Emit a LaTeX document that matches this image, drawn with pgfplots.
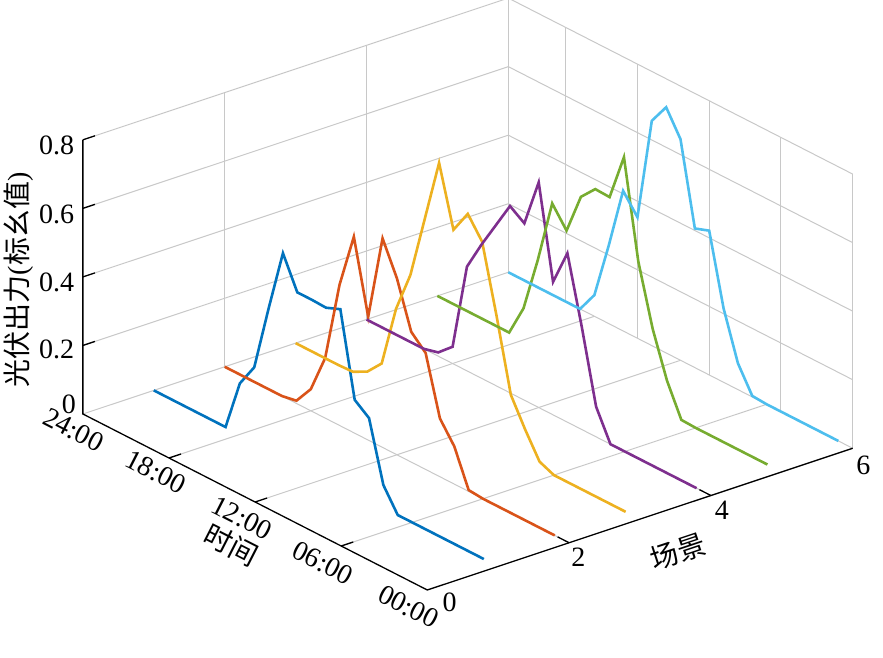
\documentclass[border=0pt]{standalone}
\usepackage{pgfplots}
\pgfplotsset{compat=1.18}
\usepackage{pgfplotstable}
\usepackage{fontspec}
\setmainfont{Liberation Serif}
\newfontfamily\cjk{Noto Sans CJK SC}
\definecolor{c1}{rgb}{0,0.447,0.741}
\definecolor{c2}{rgb}{0.850,0.325,0.098}
\definecolor{c3}{rgb}{0.929,0.694,0.125}
\definecolor{c4}{rgb}{0.494,0.184,0.556}
\definecolor{c5}{rgb}{0.466,0.674,0.188}
\definecolor{c6}{rgb}{0.301,0.745,0.933}
\definecolor{gridc}{RGB}{200,200,200}

\pgfplotstableread{
t  s1    s2    s3    s4    s5    s6
1  0     0     0     0     0     0
2  0     0     0     0     0     0
3  0     0     0     0     0     0
4  0     0     0     0     0     0
5  0     0     0     0     0     0
6  0     0     0     0     0     0
7  0     0.004 0.018 0     0.002 0.003
8  0.066 0.110 0.090 0.088 0.095 0.077
9  0.240 0.170 0.170 0.300 0.225 0.216
10 0.272 0.340 0.380 0.493 0.400 0.421
11 0.515 0.380 0.574 0.388 0.683 0.406
12 0.498 0.515 0.634 0.657 0.545 0.645
13 0.500 0.610 0.566 0.516 0.547 0.717
14 0.500 0.360 0.740 0.545 0.503 0.656
15 0.593 0.572 0.555 0.467 0.383 0.353
16 0.410 0.410 0.370 0.389 0.441 0.409
17 0.217 0.175 0.250 0.304 0.255 0.228
18 0.149 0.063 0.069 0.049 0.092 0.062
19 0     0.008 0.024 0.011 0     0
20 0     0     0.002 0     0     0
21 0     0     0     0     0     0
22 0     0     0     0     0     0
23 0     0     0     0     0     0
24 0     0     0     0     0     0
}\pvdata

\begin{document}
\begin{tikzpicture}
\fontsize{14}{16.8}\selectfont
\begin{axis}[
  x={(35.45pt,11.81pt)}, y={(-7.175pt,3.6665pt)}, z={(0pt,171.35pt)},
  xmin=0, xmax=6, ymin=0, ymax=24, zmin=0, zmax=0.8,
  hide axis, clip=false,
  every axis plot/.append style={forget plot},
]
% grid: z levels on the two back walls
\pgfplotsinvokeforeach{0,0.2,0.4,0.6,0.8}{
  \addplot3[gridc, line width=0.5pt] coordinates {(0,24,#1) (6,24,#1) (6,0,#1)};
}
% vertical grid on wall t=24
\pgfplotsinvokeforeach{2,4,6}{
  \addplot3[gridc, line width=0.5pt] coordinates {(#1,24,0) (#1,24,0.8)};
}
% vertical grid on wall x=6
\pgfplotsinvokeforeach{0,5,10,15,20}{
  \addplot3[gridc, line width=0.5pt] coordinates {(6,#1,0) (6,#1,0.8)};
}
% floor grid
\pgfplotsinvokeforeach{2,4}{
  \addplot3[gridc, line width=0.5pt] coordinates {(#1,0,0) (#1,24,0)};
}
\pgfplotsinvokeforeach{6,12,18}{
  \addplot3[gridc, line width=0.5pt] coordinates {(0,#1,0) (6,#1,0)};
}
% data
\addplot3[c1, line width=1.3pt] table[x expr=1, y=t, z=s1] {\pvdata};
\addplot3[c2, line width=1.3pt] table[x expr=2, y=t, z=s2] {\pvdata};
\addplot3[c3, line width=1.3pt] table[x expr=3, y=t, z=s3] {\pvdata};
\addplot3[c4, line width=1.3pt] table[x expr=4, y=t, z=s4] {\pvdata};
\addplot3[c5, line width=1.3pt] table[x expr=5, y=t, z=s5] {\pvdata};
\addplot3[c6, line width=1.3pt] table[x expr=6, y=t, z=s6] {\pvdata};
% axis lines
\addplot3[black, line width=0.65pt] coordinates {(0,24,0.8) (0,24,0) (0,0,0) (6,0,0)};
\pgfplotsinvokeforeach{0.2,0.4,0.6,0.8}{
  \addplot3[black, line width=0.65pt] coordinates {(0,24,#1) (0.17,24,#1)};
}
\pgfplotsinvokeforeach{6,12,18}{
  \addplot3[black, line width=0.65pt] coordinates {(0,#1,0) (0.17,#1,0)};
}
\pgfplotsinvokeforeach{2,4}{
  \addplot3[black, line width=0.65pt] coordinates {(#1,0,0) (#1,0.8,0)};
}
% z tick labels
\node[anchor=east, inner sep=0pt] at ([xshift=-4.15pt, yshift=-2.9pt]axis cs:0,24,0.8) {0.8};
\node[anchor=east, inner sep=0pt] at ([xshift=-4.15pt, yshift=-2.85pt]axis cs:0,24,0.6) {0.6};
\node[anchor=east, inner sep=0pt] at ([xshift=-4.15pt, yshift=-2.65pt]axis cs:0,24,0.4) {0.4};
\node[anchor=east, inner sep=0pt] at ([xshift=-4.15pt, yshift=-2.15pt]axis cs:0,24,0.2) {0.2};
\node[anchor=east, inner sep=0pt] at ([xshift=-3.3pt, yshift=4.75pt]axis cs:0,24,0) {0};
% time tick labels
\node[inner sep=0pt, rotate=-27.07] at ([xshift=-4.65pt, yshift=-8pt]axis cs:0,24,0) {24:00};
\node[inner sep=0pt, rotate=-27.07] at ([xshift=-6.65pt, yshift=-7pt]axis cs:0,18,0) {18:00};
\node[inner sep=0pt, rotate=-27.07] at ([xshift=-6.7pt, yshift=-7.9pt]axis cs:0,12,0) {12:00};
\node[inner sep=0pt, rotate=-27.07] at ([xshift=-9.15pt, yshift=-8.4pt]axis cs:0,6,0) {06:00};
\node[inner sep=0pt, rotate=-27.07] at ([xshift=-9.35pt, yshift=-8.35pt]axis cs:0,0,0) {00:00};
% scenario tick labels
\node[inner sep=0pt] at ([xshift=11.2pt, yshift=-6pt]axis cs:0,0,0) {0};
\node[inner sep=0pt] at ([xshift=4.6pt, yshift=-7pt]axis cs:2,0,0) {2};
\node[inner sep=0pt] at ([xshift=5.5pt, yshift=-7.35pt]axis cs:4,0,0) {4};
\node[inner sep=0pt] at ([xshift=5.3pt, yshift=-8.35pt]axis cs:6,0,0) {6};
% axis labels
\coordinate (O) at (axis cs:0,0,0);
\node[inner sep=0pt, rotate=90] at ([xshift=-204.15pt, yshift=155pt]O) {\fontsize{14}{16}\selectfont{\cjk 光伏出力}({\cjk 标幺值})};
\node[inner sep=0pt, rotate=-27.07] at ([xshift=-98.15pt, yshift=22.5pt]O) {\fontsize{14}{16}\selectfont\cjk 时间};
\node[inner sep=0pt, rotate=18.43] at ([xshift=125.35pt, yshift=19pt]O) {\fontsize{14}{16}\selectfont\cjk 场景};
\end{axis}
\pgfresetboundingbox
\path[use as bounding box] ([shift={(-213.65pt,295pt)}]O) rectangle ([shift={(227.85pt,-34pt)}]O);
\end{tikzpicture}
\end{document}
